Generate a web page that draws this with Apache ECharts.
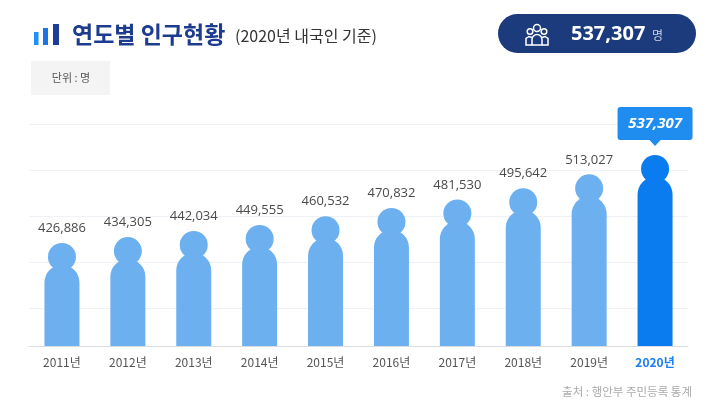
<!DOCTYPE html>
<html><head><meta charset="utf-8">
<script src="https://cdn.jsdelivr.net/npm/echarts@6/dist/echarts.min.js"></script>
<style>html,body{margin:0;padding:0;background:#fff}#c{width:728px;height:419px}</style>
</head><body><div id="c"></div>
<script>
const categories = ['2011년','2012년','2013년','2014년','2015년','2016년','2017년','2018년','2019년','2020년'];
const population = [426886,434305,442034,449555,460532,470832,481530,495642,513027,537307];
const totalLabel = '537,307';
const Y_MIN = 297600, Y_MAX = 576180;
const FONT = "'Open Sans','Noto Sans CJK KR',sans-serif";
const KFONT = "'Noto Sans CJK KR','Open Sans',sans-serif";
const last = population.length - 1;
function fmt(v){ return String(v).replace(/\B(?=(\d{3})+(?!\d))/g, ','); }
// decorative grid lines: every 46px of plot height, starting 38px above the baseline
const PLOT_H = 222;
const unitPerPx = (Y_MAX - Y_MIN) / PLOT_H;
const gridMarks = [38, 84, 130, 176, 222].map(p => ({yAxis: Y_MIN + p * unitPerPx}));

const chart = echarts.init(document.getElementById('c'), null, {renderer:'canvas'});
chart.setOption({
  animation:false,
  grid:{left:29, right:40, top:124, bottom:73},
  xAxis:{type:'category', data:categories,
    axisLine:{lineStyle:{color:'#d9dde3', width:1}}, axisTick:{show:false},
    axisLabel:{interval:0, margin:10, fontSize:12, color:'#555', fontFamily:KFONT,
      formatter:(v,i)=> i===last ? '{b|'+v+'}' : v,
      rich:{b:{fontWeight:'bold', color:'#1a7ff0', fontSize:12, fontFamily:KFONT}}}},
  yAxis:{type:'value', min:Y_MIN, max:Y_MAX, show:false},
  series:[{
    type:'custom',
    data: population.map((v,i)=>[i,v]),
    encode:{x:0,y:1},
    z:3,
    markLine:{silent:true, symbol:'none', label:{show:false}, z:1,
      lineStyle:{color:'#eef2f7', width:1, type:'solid'}, data:gridMarks},
    renderItem:function(params, api){
      const i = api.value(0), v = api.value(1);
      const top = api.coord([i, v]);
      const base = api.coord([i, Y_MIN]);
      const cx = top[0], ty = top[1];
      const color = i===last ? '#0a7cf0' : '#6db0ef';
      const children = [
        {type:'circle', shape:{cx:cx, cy:ty+14, r:14}, style:{fill:color}},
        {type:'rect', shape:{x:cx-17.5, y:ty+22, width:35, height:base[1]-ty-22, r:[17.5,17.5,0,0]}, style:{fill:color}}
      ];
      if(i===last){
        children.push({type:'rect', shape:{x:cx-37.5, y:ty-48, width:75, height:33, r:3}, style:{fill:'#1f8cf0'}});
        children.push({type:'polygon', shape:{points:[[cx-6,ty-15.5],[cx+6,ty-15.5],[cx,ty-9]]}, style:{fill:'#1f8cf0'}});
        children.push({type:'text', style:{text:fmt(v), x:cx, y:ty-31.5, align:'center', verticalAlign:'middle',
          fill:'#fff', fontSize:15, fontWeight:'bold', fontStyle:'italic', fontFamily:FONT}});
      } else {
        children.push({type:'text', style:{text:fmt(v), x:cx, y:ty-8, align:'center', verticalAlign:'bottom',
          fill:'#4a4a4a', fontSize:13, fontFamily:FONT}});
      }
      return {type:'group', children:children};
    }
  }],
  graphic:[
    {type:'rect', shape:{x:34,y:32,width:4.5,height:13}, style:{fill:'#1e90ff'}},
    {type:'rect', shape:{x:43,y:28,width:5,height:17}, style:{fill:'#1b74e4'}},
    {type:'rect', shape:{x:53,y:24,width:6,height:21}, style:{fill:'#1d3c99'}},
    {type:'text', style:{text:'연도별 인구현황', x:72, y:34, verticalAlign:'middle', fill:'#1d3c8f', fontSize:23, fontWeight:'bold', fontFamily:KFONT}},
    {type:'text', style:{text:'(2020년 내국인 기준)', x:235, y:36, verticalAlign:'middle', fill:'#333', fontSize:16, fontFamily:KFONT}},
    {type:'rect', shape:{x:31,y:61,width:79,height:34}, style:{fill:'#f4f4f4'}},
    {type:'text', style:{text:'단위 : 명', x:71, y:78, align:'center', verticalAlign:'middle', fill:'#555', fontSize:11, fontFamily:KFONT}},
    {type:'rect', shape:{x:498,y:14,width:198,height:39,r:19.5}, style:{fill:'#1c3b7d'}},
    {type:'circle', shape:{cx:537,cy:28,r:3.5}, style:{fill:'none', stroke:'#fff', lineWidth:1.5}},
    {type:'circle', shape:{cx:530,cy:31.5,r:2.8}, style:{fill:'none', stroke:'#fff', lineWidth:1.5}},
    {type:'circle', shape:{cx:544,cy:31.5,r:2.8}, style:{fill:'none', stroke:'#fff', lineWidth:1.5}},
    {type:'rect', shape:{x:532,y:34.5,width:10,height:10.5,r:[5,5,0,0]}, style:{fill:'none', stroke:'#fff', lineWidth:1.5}},
    {type:'polyline', shape:{points:[[532,37.5],[529,36.5],[526,38.5],[526,45],[532,45]]}, style:{fill:'none', stroke:'#fff', lineWidth:1.5}},
    {type:'polyline', shape:{points:[[542,37.5],[545,36.5],[548,38.5],[548,45],[542,45]]}, style:{fill:'none', stroke:'#fff', lineWidth:1.5}},
    {type:'text', style:{text:totalLabel, x:571, y:34.5, verticalAlign:'middle', fill:'#fff', fontSize:20, fontWeight:'bold', fontFamily:FONT}},
    {type:'text', style:{text:'명', x:652, y:35, verticalAlign:'middle', fill:'#c8d2e6', fontSize:12, fontFamily:KFONT}},
    {type:'text', style:{text:'출처 : 행안부 주민등록 통계', x:692, y:392, align:'right', verticalAlign:'middle', fill:'#aaa', fontSize:11.5, fontFamily:KFONT}}
  ]
});
</script></body></html>
